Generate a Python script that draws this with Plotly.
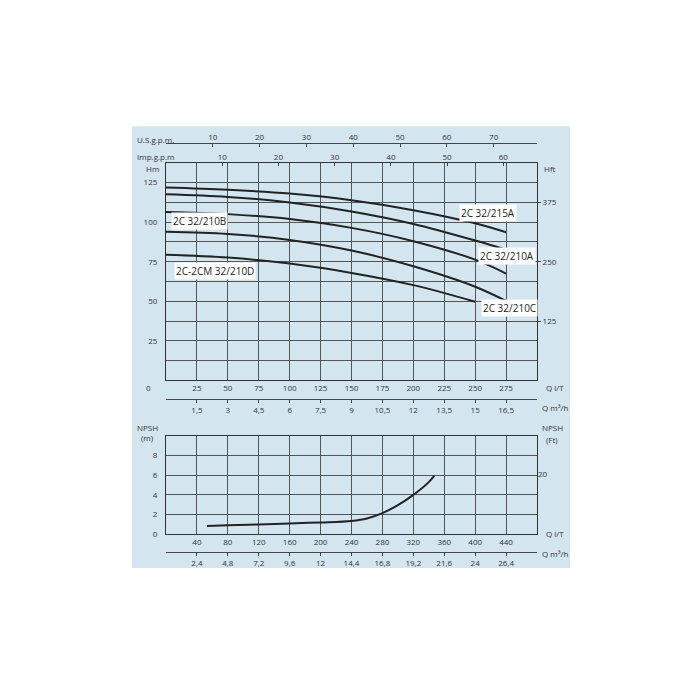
import plotly.graph_objects as go

# ---- data ----
Q_top = [0, 50, 100, 150, 200, 250, 275]
H_215A = [121.9, 120.5, 118.1, 113.9, 107.6, 99.3, 93.6]
H_210A = [117.7, 116.0, 112.5, 106.8, 98.9, 88.4, 82.6]
H_210B = [106.4, 105.1, 102.0, 96.4, 88.0, 76.3, 67.5]
H_210C = [94.0, 92.6, 88.8, 82.1, 72.1, 59.2, 50.2]
Q_D = [0, 50, 100, 150, 200, 250]
H_210D = [79.4, 77.6, 73.8, 67.9, 60.2, 49.7]
curve_names = ["2C 32/215A", "2C 32/210A", "2C 32/210B", "2C 32/210C", "2C-2CM 32/210D"]
label_pos = [(260, 105.6), (276, 78.4), (27, 101), (278, 46), (40, 69)]

Q_npsh = [53, 80, 120, 160, 200, 240, 260, 280, 300, 320, 340, 347]
NPSH = [0.83, 0.9, 1.0, 1.1, 1.2, 1.35, 1.6, 2.15, 2.95, 4.0, 5.3, 5.93]

q_top_ticks = [25, 50, 75, 100, 125, 150, 175, 200, 225, 250, 275]
m3h_top = ["1,5", "3", "4,5", "6", "7,5", "9", "10,5", "12", "13,5", "15", "16,5"]
us_gpm = [10, 20, 30, 40, 50, 60, 70]
imp_gpm = [10, 20, 30, 40, 50, 60]
h_ticks = [12.5, 25, 37.5, 50, 62.5, 75, 87.5, 100, 112.5, 125]
hft_ticks = [125, 250, 375]

q_bot_ticks = [40, 80, 120, 160, 200, 240, 280, 320, 360, 400, 440]
m3h_bot = ["2,4", "4,8", "7,2", "9,6", "12", "14,4", "16,8", "19,2", "21,6", "24", "26,4"]
npsh_ticks = [0, 2, 4, 6, 8]

def px(x): return (x - 8) / 700
def py(y): return 1 - (y - 8) / 700

INK = "#222"
F = dict(family="Open Sans", size=8, color="#333")
fig = go.Figure()
for q, h in [(Q_top, H_215A), (Q_top, H_210A), (Q_top, H_210B), (Q_top, H_210C), (Q_D, H_210D)]:
    fig.add_trace(go.Scatter(x=q, y=h, mode="lines", line=dict(color=INK, width=2, shape="spline"),
                             xaxis="x", yaxis="y", showlegend=False))
fig.add_trace(go.Scatter(x=Q_npsh, y=NPSH, mode="lines", line=dict(color=INK, width=2, shape="spline"),
                         xaxis="x5", yaxis="y3", showlegend=False))
# invisible traces so the secondary axes are drawn
for xa, ya in [("x2", "y"), ("x3", "y"), ("x4", "y"), ("x", "y2"), ("x6", "y3"), ("x5", "y4")]:
    fig.add_trace(go.Scatter(x=[None], y=[None], xaxis=xa, yaxis=ya, showlegend=False, hoverinfo="skip"))

xd = [px(166), px(537)]
frame = dict(showline=True, linecolor="#333", linewidth=1.2, mirror=True, gridcolor="#555",
             gridwidth=1, zeroline=False, tickfont=F, ticks="")
sec = dict(showgrid=False, tickfont=F, zeroline=False, tickcolor="#444", ticklen=3)
fig.update_layout(
    width=700, height=700, margin=dict(l=0, r=0, t=0, b=0),
    paper_bgcolor="white", plot_bgcolor="white", showlegend=False,
    xaxis=dict(domain=xd, anchor="y", range=[0, 300], tickvals=q_top_ticks, **frame),
    yaxis=dict(domain=[py(383), py(164)], anchor="x", range=[0, 137.5], tickvals=h_ticks,
               ticktext=[("" if (v % 25) else str(int(v))) for v in h_ticks], ticklabelstandoff=6, **frame),
    xaxis2=dict(overlaying="x", anchor="free", position=py(402), side="bottom", range=[0, 300],
                tickvals=q_top_ticks, ticktext=m3h_top, showline=True, linecolor="#444", ticks="outside", **sec),
    xaxis3=dict(overlaying="x", anchor="free", position=py(144), side="top", range=[0, 300],
                tickvals=[v*3.785 for v in us_gpm], ticktext=[str(v) for v in us_gpm],
                showline=True, linecolor="#444", ticks="inside", **sec),
    xaxis4=dict(overlaying="x", anchor="y", side="top", range=[0, 300],
                tickvals=[v*4.546 for v in imp_gpm], ticktext=[str(v) for v in imp_gpm], ticks="inside", **sec),
    yaxis2=dict(overlaying="y", anchor="x", side="right", range=[0, 137.5],
                tickvals=[v*0.3 for v in hft_ticks], ticktext=[str(v) for v in hft_ticks], ticks="outside", **sec),
    xaxis5=dict(domain=xd, anchor="y3", range=[0, 480], tickvals=q_bot_ticks, **frame),
    yaxis3=dict(domain=[py(538), py(439)], anchor="x5", range=[0, 10], tickvals=npsh_ticks, ticklabelstandoff=6, **frame),
    xaxis6=dict(overlaying="x5", anchor="free", position=py(556), side="bottom", range=[0, 480],
                tickvals=q_bot_ticks, ticktext=m3h_bot, showline=True, linecolor="#444", ticks="outside", **sec),
    yaxis4=dict(overlaying="y3", anchor="x5", side="right", range=[0, 10], tickvals=[6.096], ticktext=["20"], ticks="", **sec),
)
fig.add_shape(type="rect", xref="paper", yref="paper", x0=px(132), x1=px(570), y0=py(572), y1=py(127),
              fillcolor="#d3e5ef", line_width=0, layer="below")

for name, (qx, hy) in zip(curve_names, label_pos):
    fig.add_annotation(x=qx, y=hy, xref="x", yref="y", text=name, showarrow=False,
                       font=dict(family="Open Sans", size=10, color=INK), bgcolor="white")

def ann(x, y, t, xa="center"):
    fig.add_annotation(x=px(x), y=py(y), xref="paper", yref="paper", text=t, showarrow=False,
                       xanchor=xa, font=F)
ann(135, 133, "U.S.g.p.m.", "left")
ann(135, 150, "Imp.g.p.m", "left")
ann(152, 162, "Hm")
ann(550, 162, "Hft")
ann(148, 390, "0")
ann(555, 390, "Q l/T")
ann(555, 410, "Q m³/h")
ann(147, 431, "NPSH")
ann(147, 441, "(m)")
ann(552, 431, "NPSH")
ann(552, 443, "(Ft)")
ann(555, 545, "Q l/T")
ann(555, 565, "Q m³/h")

fig.write_html("out.html")
